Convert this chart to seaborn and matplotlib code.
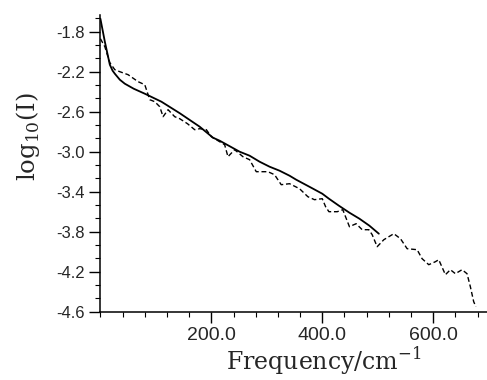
import numpy as np
import pandas as pd
import matplotlib
matplotlib.use("Agg")
import matplotlib.pyplot as plt
import seaborn as sns
from matplotlib.ticker import FixedLocator, AutoMinorLocator, FormatStrFormatter

# fitted curve (solid)
fit_freq = [0, 8, 17, 22, 26, 35, 44, 60, 80, 110, 143, 179, 203, 215, 251, 269, 287,
            305, 323, 341, 353, 380, 400, 412, 430, 449, 467, 485, 502]
fit_logi = [-1.67, -1.90, -2.13, -2.19, -2.22, -2.28, -2.32, -2.37, -2.42, -2.50, -2.615,
            -2.75, -2.86, -2.89, -3.00, -3.04, -3.10, -3.15, -3.19, -3.24, -3.28, -3.36,
            -3.42, -3.47, -3.54, -3.61, -3.67, -3.74, -3.82]

# measured spectrum (dashed)
exp_freq = [0, 8, 17, 26, 35, 50, 68, 80, 89, 98, 107, 113, 122, 134, 143, 157, 170, 179,
            191, 200, 215, 224, 230, 242, 257, 269, 281, 293, 302, 314, 326, 341, 359, 374,
            386, 400, 406, 412, 427, 437, 449, 461, 472, 484, 490, 499, 511, 529, 541, 553,
            571, 580, 592, 604, 610, 622, 631, 640, 652, 661, 667, 673, 677]
exp_logi = [-1.87, -1.95, -2.11, -2.18, -2.20, -2.23, -2.30, -2.33, -2.48, -2.50, -2.55,
            -2.65, -2.58, -2.65, -2.67, -2.72, -2.78, -2.77, -2.78, -2.85, -2.90, -2.93,
            -3.05, -2.98, -3.05, -3.08, -3.20, -3.20, -3.20, -3.23, -3.33, -3.32, -3.37,
            -3.45, -3.48, -3.47, -3.55, -3.60, -3.60, -3.58, -3.75, -3.72, -3.78, -3.78,
            -3.83, -3.95, -3.88, -3.82, -3.87, -3.97, -3.98, -4.07, -4.13, -4.10, -4.08,
            -4.23, -4.18, -4.22, -4.18, -4.22, -4.35, -4.50, -4.55]

x_major = [200, 400, 600]
y_major = [-1.8, -2.2, -2.6, -3.0, -3.4, -3.8, -4.2, -4.6]

sns.set_style("ticks")
plt.rcParams["font.family"] = ["Liberation Sans", "DejaVu Sans"]

fig = plt.figure(figsize=(4.87, 3.8), dpi=100)
ax = fig.add_axes([100.4 / 487, 1 - 311.7 / 380, 1 - 100.4 / 487, (311.7 - 15) / 380])

sns.lineplot(x=fit_freq, y=fit_logi, ax=ax, color="black", lw=1.3, sort=False)
sns.lineplot(x=exp_freq, y=exp_logi, ax=ax, color="black", lw=1.0, sort=False,
             linestyle=(0, (3.5, 2)))

ax.set_xlim(0, 697)
ax.set_ylim(-4.6, -1.633)

ax.xaxis.set_major_locator(FixedLocator(x_major))
ax.xaxis.set_minor_locator(FixedLocator(np.arange(0, 681, 40)))
ax.xaxis.set_major_formatter(FormatStrFormatter("%.1f"))
ax.yaxis.set_major_locator(FixedLocator(y_major))
ax.yaxis.set_minor_locator(AutoMinorLocator(3))
ax.yaxis.set_major_formatter(FormatStrFormatter("%.1f"))

ax.tick_params(axis="both", which="major", length=8, width=1, color="black", pad=3)
ax.tick_params(axis="both", which="minor", length=3.5, width=0.8, color="black")
ax.tick_params(axis="y", which="major", labelsize=12)
ax.tick_params(axis="x", which="major", labelsize=14)

for s in ["top", "right"]:
    ax.spines[s].set_visible(False)
for s in ["left", "bottom"]:
    ax.spines[s].set_linewidth(1.1)
    ax.spines[s].set_color("black")

ax.set_xlabel(r"Frequency/cm$^{\mathregular{-1}}$", family="DejaVu Serif", fontsize=17)
ax.set_ylabel(r"log$_{\mathregular{10}}$(I)", family="DejaVu Serif", fontsize=17.5)
ax.xaxis.set_label_coords(0.579, -0.115)
ax.yaxis.set_label_coords(-0.15, 0.589)

fig.savefig("out.png", dpi=100)
